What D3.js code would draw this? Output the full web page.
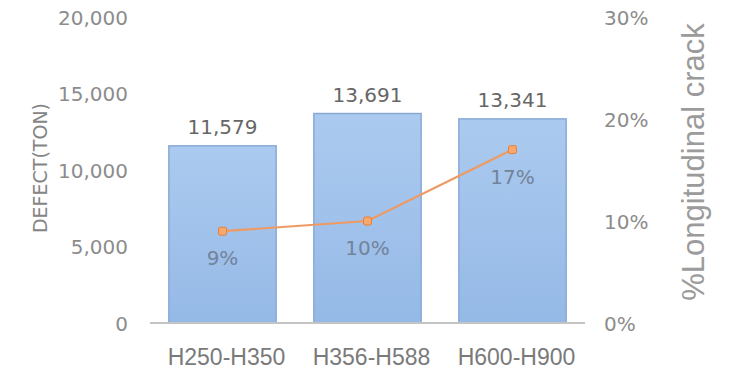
<!DOCTYPE html>
<html><head><meta charset="utf-8">
<script src="https://cdn.jsdelivr.net/npm/d3@7"></script>
<style>
body{margin:0;background:#fff;}
svg{display:block;}
</style></head>
<body>
<svg id="chart" width="738" height="371"></svg>
<script>
const categories = ["H250-H350", "H356-H588", "H600-H900"];
const defectTon = [11579, 13691, 13341];
const crackPct = [0.09, 0.10, 0.17];
const leftTicks = [0, 5000, 10000, 15000, 20000];
const rightTicks = [0, 0.1, 0.2, 0.3];
const leftTitle = "DEFECT(TON)";
const rightTitle = "%Longitudinal crack";

const svg = d3.select("#chart");
const plot = {left: 150, right: 585, top: 17, bottom: 323};

const x = d3.scaleBand().domain(categories).range([plot.left, plot.right]).paddingInner(0.26).paddingOuter(0.13);
const y = d3.scaleLinear().domain([0, 20000]).range([plot.bottom, plot.top]);
const y2 = d3.scaleLinear().domain([0, 0.3]).range([plot.bottom, plot.top]);

const defs = svg.append("defs");
const grad = defs.append("linearGradient").attr("id","barGrad").attr("x1",0).attr("y1",0).attr("x2",0).attr("y2",1);
grad.append("stop").attr("offset","0%").attr("stop-color","#abcaef");
grad.append("stop").attr("offset","100%").attr("stop-color","#95b9e6");

const numFont = "'DejaVu Sans', Verdana, sans-serif";
const fmt = d3.format(",");

// left axis
const yAxis = d3.axisLeft(y).tickValues(leftTicks).tickFormat(fmt).tickSize(0).tickPadding(0);
const gy = svg.append("g").attr("transform", `translate(128,0)`).call(yAxis);
gy.select(".domain").remove();
gy.selectAll("text").attr("font-family", numFont).attr("font-size", 20).attr("fill", "#8c8c8c").attr("dy","0.35em");

// right axis
const y2Axis = d3.axisRight(y2).tickValues(rightTicks).tickFormat(d3.format(".0%")).tickSize(0).tickPadding(0);
const gy2 = svg.append("g").attr("transform", `translate(604,0)`).call(y2Axis);
gy2.select(".domain").remove();
gy2.selectAll("text").attr("font-family", numFont).attr("font-size", 20).attr("fill", "#8c8c8c").attr("dy","0.35em");

// bars
svg.append("g").selectAll("rect").data(categories).join("rect")
  .attr("x", d => x(d))
  .attr("y", (d,i) => y(defectTon[i]))
  .attr("width", x.bandwidth())
  .attr("height", (d,i) => y(0) - y(defectTon[i]))
  .attr("fill", "url(#barGrad)")
  .attr("stroke", "#8aaad6").attr("stroke-width", 1.5);

// baseline
svg.append("line").attr("x1", plot.left).attr("x2", plot.right)
  .attr("y1", y(0)).attr("y2", y(0)).attr("stroke", "#c4c4c4").attr("stroke-width", 2);

// bar labels
svg.append("g").selectAll("text").data(categories).join("text")
  .attr("x", d => x(d) + x.bandwidth()/2)
  .attr("y", (d,i) => y(defectTon[i]) - 19)
  .attr("dy","0.35em")
  .attr("text-anchor","middle")
  .attr("font-family", numFont).attr("font-size", 20).attr("fill", "#666666")
  .text((d,i) => fmt(defectTon[i]));

// line
const cx = d => x(d) + x.bandwidth()/2;
const line = d3.line().x((d,i) => cx(categories[i])).y(d => y2(d));
svg.append("path").datum(crackPct).attr("d", line)
  .attr("fill","none").attr("stroke","#ee9a62").attr("stroke-width",2.2);
svg.append("g").selectAll("rect").data(crackPct).join("rect")
  .attr("x",(d,i) => cx(categories[i]) - 4)
  .attr("y", d => y2(d) - 4)
  .attr("width", 8).attr("height", 8).attr("rx", 2)
  .attr("fill","#f6a86e").attr("stroke","#ed7d31").attr("stroke-width",1);

// line labels
svg.append("g").selectAll("text").data(crackPct).join("text")
  .attr("x",(d,i) => cx(categories[i]))
  .attr("y", d => y2(d) + 27)
  .attr("dy","0.35em")
  .attr("text-anchor","middle")
  .attr("font-family", numFont).attr("font-size", 20).attr("fill", "#73839a")
  .text(d => d3.format(".0%")(d));

// category axis labels
svg.append("g").selectAll("text").data(categories).join("text")
  .attr("x", d => cx(d) + 4)
  .attr("y", 365)
  .attr("text-anchor","middle")
  .attr("font-family","'Liberation Sans', Arial, sans-serif").attr("font-size", 23).attr("fill", "#7a7a7a")
  .text(d => d);

// left title
svg.append("text")
  .attr("transform","translate(40,168) rotate(-90)")
  .attr("dy","0.35em")
  .attr("text-anchor","middle")
  .attr("font-family", numFont).attr("font-size", 19).attr("fill", "#858585")
  .text(leftTitle);

// right title
svg.append("text")
  .attr("transform","translate(693,162) rotate(-90)")
  .attr("dy","0.35em")
  .attr("text-anchor","middle")
  .attr("font-family","'Liberation Sans', Arial, sans-serif").attr("font-size", 31).attr("fill", "#9b9b9b")
  .text(rightTitle);
</script>
</body></html>
